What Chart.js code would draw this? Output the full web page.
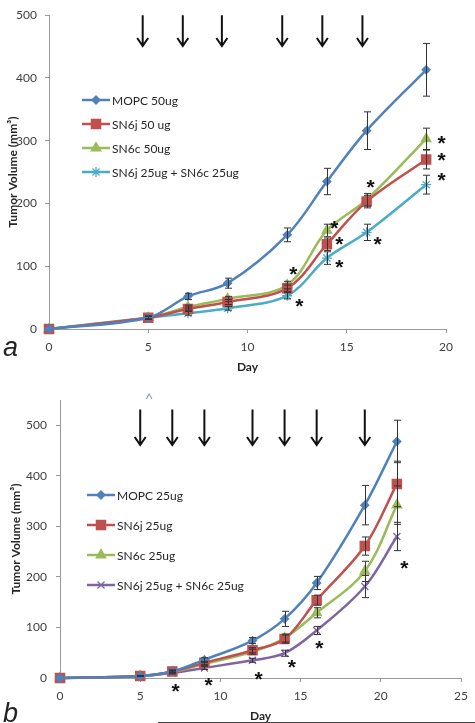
<!DOCTYPE html>
<html><head><meta charset="utf-8">
<script src="https://cdn.jsdelivr.net/npm/chart.js@4"></script>
<style>
html,body{margin:0;padding:0;background:#fff;width:475px;height:723px;overflow:hidden;position:relative}
canvas{position:absolute;left:0}
#ca{top:0}
#cb{top:380px}
.pl{position:absolute;font-family:"Liberation Sans",Arial,sans-serif;font-style:italic;font-size:27px;line-height:27px;color:#222}
#la{left:3px;top:334px}
#lb{left:3px;top:700px}
#edge{position:absolute;left:158px;top:722px;width:317px;height:1px;background:#444}
</style></head>
<body>
<canvas id="ca" width="475" height="375"></canvas>
<canvas id="cb" width="475" height="343"></canvas>
<div class="pl" id="la">a</div>
<div class="pl" id="lb">b</div>
<div id="edge"></div>
<script>
// ---------- Panel a data ----------
const daysA = [0, 5, 7, 9, 12, 14, 16, 19];
const namesA = ['MOPC 50ug', 'SN6j 50 ug', 'SN6c 50ug', 'SN6j 25ug + SN6c 25ug'];
const mopcA = [0, 18, 52, 73, 150, 235, 316, 413];
const sn6jA = [0, 18, 32, 43, 65, 135, 203, 270];
const sn6cA = [0, 18, 35, 48, 70, 157, 206, 303];
const comboA = [0, 18, 25, 33, 53, 113, 154, 230];
const mopcErrA = [0, 3, 5, 8, 11, 21, 30, 42];
const sn6jErrA = [0, 2, 3, 4, 5, 10, 10, 15];
const sn6cErrA = [0, 2, 3, 4, 6, 10, 10, 17];
const comboErrA = [0, 2, 3, 3, 5, 10, 13, 15];
const arrowDaysA = [4.72, 6.74, 8.71, 11.75, 13.77, 15.79];
const starsA = [[12.31, 94], [12.61, 42], [14.38, 167], [14.63, 142], [14.63, 105], [16.2, 232], [16.55, 142], [19.78, 302], [19.78, 276], [19.78, 243]];
const yTicksA = [0, 100, 200, 300, 400, 500];
const xTicksA = [0, 5, 10, 15, 20];

// ---------- Panel b data ----------
const daysB = [0, 5, 7, 9, 12, 14, 16, 19, 21];
const namesB = ['MOPC 25ug', 'SN6j 25ug', 'SN6c 25ug', 'SN6j 25ug + SN6c 25ug'];
const mopcB = [0, 4, 13, 36, 74, 117, 188, 342, 468];
const sn6jB = [0, 4, 13, 30, 55, 77, 154, 261, 384];
const sn6cB = [0, 4, 12, 28, 52, 79, 129, 211, 342];
const comboB = [0, 4, 10, 20, 35, 49, 94, 181, 280];
const mopcErrB = [0, 1, 3, 4, 6, 15, 13, 39, 42];
const sn6jErrB = [0, 1, 2, 3, 5, 8, 10, 18, 45];
const sn6cErrB = [0, 1, 2, 3, 5, 8, 10, 20, 38];
const comboErrB = [0, 1, 2, 3, 4, 6, 8, 22, 28];
const arrowDaysB = [5, 7, 9, 12, 14, 16, 19];
const starsB = [[7.2, -19], [9.27, -7], [12.38, 6], [14.45, 30], [16.16, 66], [21.46, 226]];
const caretB = [5.55, 559];
const yTicksB = [0, 100, 200, 300, 400, 500];
const xTicksB = [0, 5, 10, 15, 20, 25];

const BLUE = '#4F81BD', RED = '#C0504D', GREEN = '#9BBB59', AQUA = '#4BACC6', PURPLE = '#8064A2';
const FONT = 'Lato, "Liberation Sans", sans-serif';
Chart.defaults.font.family = FONT;
Chart.defaults.font.size = 12;
Chart.defaults.color = '#404040';

function mark(ctx, style, r, x, y, color) {
  ctx.save();
  ctx.fillStyle = color; ctx.strokeStyle = color; ctx.lineWidth = 1.3;
  if (Chart.helpers && Chart.helpers.drawPoint) {
    Chart.helpers.drawPoint(ctx, {pointStyle: style, radius: r, rotation: 0, borderWidth: 1.3}, x, y);
  }
  ctx.restore();
}

const overlay = {
  id: 'overlay',
  afterDatasetsDraw(chart, args, o) {
    const {ctx} = chart; const xs = chart.scales.x, ys = chart.scales.y;
    ctx.save();
    // error bars
    ctx.strokeStyle = '#333'; ctx.lineWidth = 1;
    chart.data.datasets.forEach(ds => {
      ds.data.forEach((p, i) => {
        const e = ds.errors[i]; if (!e) return;
        const px = Math.round(xs.getPixelForValue(p.x)) + 0.5;
        const t = ys.getPixelForValue(p.y + e), b = ys.getPixelForValue(p.y - e);
        ctx.beginPath();
        ctx.moveTo(px, t); ctx.lineTo(px, b);
        ctx.moveTo(px - 3.5, t); ctx.lineTo(px + 3.5, t);
        ctx.moveTo(px - 3.5, b); ctx.lineTo(px + 3.5, b);
        ctx.stroke();
      });
    });
    // arrows
    ctx.strokeStyle = '#111'; ctx.lineWidth = 2;
    o.arrows.forEach(d => {
      const px = xs.getPixelForValue(d);
      const t = ys.getPixelForValue(o.arrowTop), b = ys.getPixelForValue(o.arrowBottom);
      ctx.beginPath();
      ctx.moveTo(px, t); ctx.lineTo(px, b - 1);
      ctx.moveTo(px - 5.5, b - 8); ctx.lineTo(px, b); ctx.lineTo(px + 5.5, b - 8);
      ctx.stroke();
    });
    // significance stars
    ctx.fillStyle = '#111'; ctx.font = 'bold 21px "Liberation Sans", Arial, sans-serif';
    ctx.textAlign = 'center'; ctx.textBaseline = 'middle';
    o.stars.forEach(s => ctx.fillText('*', xs.getPixelForValue(s[0]), ys.getPixelForValue(s[1]) + 5));
    if (o.caret) {
      ctx.fillStyle = '#7F9FC0'; ctx.font = '15px ' + FONT;
      ctx.fillText('^', xs.getPixelForValue(o.caret[0]), ys.getPixelForValue(o.caret[1]) + 4);
    }
    // legend
    const L = o.legend;
    ctx.textAlign = 'left'; ctx.font = '12px ' + FONT; ctx.fillStyle = '#262626';
    chart.data.datasets.forEach((ds, i) => {
      const yy = L.y + i * L.dy;
      ctx.strokeStyle = ds.borderColor; ctx.lineWidth = 2.5;
      ctx.beginPath(); ctx.moveTo(L.x0, yy); ctx.lineTo(L.x1, yy); ctx.stroke();
      mark(ctx, ds.pointStyle, ds.pointRadius, (L.x0 + L.x1) / 2, yy, ds.borderColor);
      ctx.fillStyle = '#262626';
      ctx.fillText(ds.label, L.tx, yy + 1);
    });
    ctx.restore();
  }
};

function makeChart(id, c) {
  const series = [
    {label: c.names[0], values: c.mopc, errors: c.mopcErr, color: BLUE, style: 'rectRot', r: 4},
    {label: c.names[1], values: c.sn6j, errors: c.sn6jErr, color: RED, style: 'rect', r: 6.5},
    {label: c.names[2], values: c.sn6c, errors: c.sn6cErr, color: GREEN, style: 'triangle', r: 5.5},
    {label: c.names[3], values: c.combo, errors: c.comboErr, color: c.comboColor, style: c.comboStyle, r: 5}
  ];
  return new Chart(document.getElementById(id), {
    type: 'line',
    data: {
      datasets: series.map(s => ({
        label: s.label,
        data: c.days.map((d, i) => ({x: d, y: s.values[i]})),
        errors: s.errors,
        borderColor: s.color, backgroundColor: s.color,
        pointStyle: s.style, pointRadius: s.r, pointBorderWidth: 1.3,
        borderWidth: 2.5, tension: 0.35, clip: false
      }))
    },
    options: {
      responsive: false, animation: false, events: [],
      layout: {padding: c.padding},
      scales: {
        x: {
          type: 'linear', min: 0, max: c.xMax,
          afterBuildTicks: s => { s.ticks = c.xTicks.map(v => ({value: v})); },
          ticks: {padding: 7, color: '#404040'},
          grid: {drawOnChartArea: false, tickLength: 4, color: '#9a9a9a'},
          border: {color: '#9a9a9a'},
          title: {display: true, text: 'Day', font: {weight: 'bold', size: 12}, color: '#262626', padding: c.xTitlePad},
          afterFit: s => { s.height = c.xHeight; }
        },
        y: {
          min: 0, max: c.yMax,
          afterBuildTicks: s => { s.ticks = c.yTicks.map(v => ({value: v})); },
          ticks: {padding: c.yTickPad, color: '#404040'},
          grid: {drawOnChartArea: false, tickLength: 4, color: '#9a9a9a'},
          border: {color: '#9a9a9a'},
          title: {display: true, text: 'Tumor Volume (mm³)', font: {weight: 'bold', size: 12}, color: '#262626', padding: c.yTitlePad},
          afterFit: s => { s.width = c.yWidth; }
        }
      },
      plugins: {
        legend: {display: false}, tooltip: {enabled: false},
        overlay: {arrows: c.arrows, arrowTop: c.arrowTop, arrowBottom: c.arrowBottom, stars: c.stars, caret: c.caret, legend: c.legend}
      }
    },
    plugins: [overlay]
  });
}

makeChart('ca', {
  names: namesA, days: daysA, mopc: mopcA, sn6j: sn6jA, sn6c: sn6cA, combo: comboA,
  mopcErr: mopcErrA, sn6jErr: sn6jErrA, sn6cErr: sn6cErrA, comboErr: comboErrA,
  comboColor: AQUA, comboStyle: 'star',
  xMax: 20, yMax: 500, xTicks: xTicksA, yTicks: yTicksA,
  padding: {left: 0, top: 5, right: 29, bottom: 0},
  xHeight: 46, yWidth: 49, yTickPad: 8, xTitlePad: {top: 1, bottom: 1}, yTitlePad: {top: 6, bottom: 2},
  arrows: arrowDaysA, arrowTop: 500, arrowBottom: 451, stars: starsA, caret: null,
  legend: {x0: 82, x1: 110, tx: 112, y: 100, dy: 24}
});

makeChart('cb', {
  names: namesB, days: daysB, mopc: mopcB, sn6j: sn6jB, sn6c: sn6cB, combo: comboB,
  mopcErr: mopcErrB, sn6jErr: sn6jErrB, sn6cErr: sn6cErrB, comboErr: comboErrB,
  comboColor: PURPLE, comboStyle: 'crossRot',
  xMax: 25, yMax: 550, xTicks: xTicksB, yTicks: yTicksB,
  padding: {left: 0, top: 20, right: 5, bottom: 0},
  xHeight: 45, yWidth: 60, yTickPad: 9, xTitlePad: {top: 0, bottom: 0}, yTitlePad: {top: 9, bottom: 2},
  arrows: arrowDaysB, arrowTop: 531, arrowBottom: 461, stars: starsB, caret: caretB,
  legend: {x0: 87, x1: 115, tx: 117, y: 115, dy: 30}
});
</script>
</body></html>
